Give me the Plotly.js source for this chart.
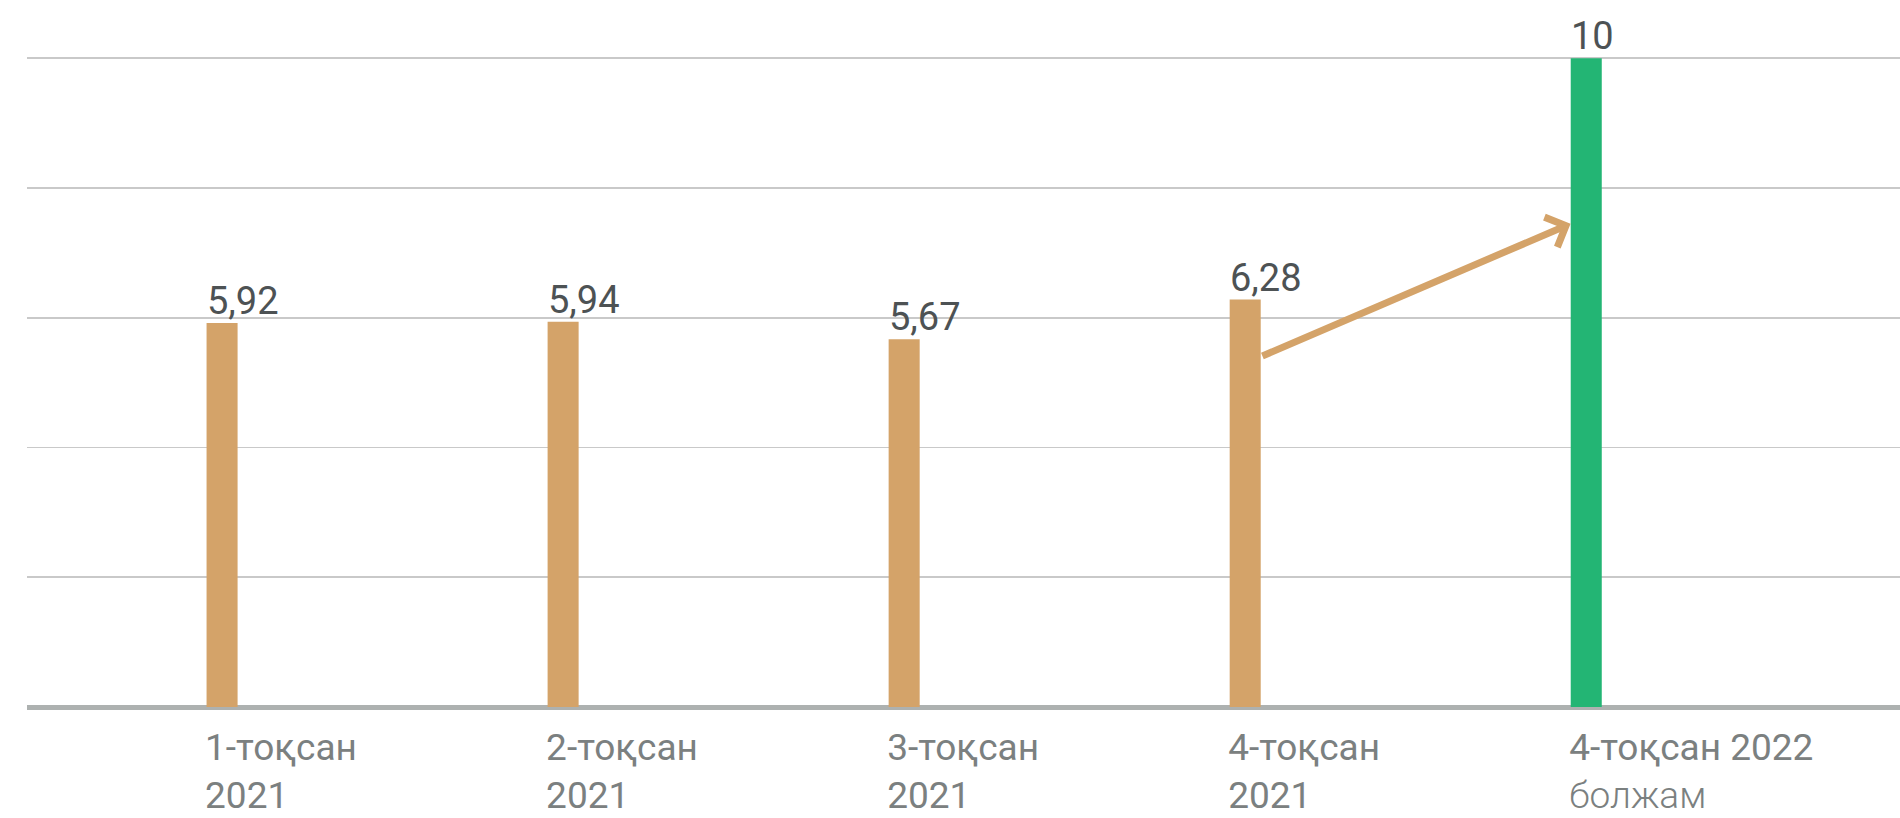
<!DOCTYPE html>
<html>
<head>
<meta charset="utf-8">
<script src="https://cdn.plot.ly/plotly-3.0.1.min.js"></script>
<style>
html, body { margin: 0; padding: 0; background: #ffffff; }
#chart { width: 1900px; height: 818px; }
</style>
</head>
<body>
<div id="chart"></div>
<script>
// Data
const categories = ["1-тоқсан 2021", "2-тоқсан 2021", "3-тоқсан 2021", "4-тоқсан 2021", "4-тоқсан 2022 болжам"];
const tickLine1 = ["1-тоқсан", "2-тоқсан", "3-тоқсан", "4-тоқсан", "4-тоқсан 2022"];
const tickLine2 = ["2021", "2021", "2021", "2021", "болжам"];
const values = [5.92, 5.94, 5.67, 6.28, 10];
const isForecast = [false, false, false, false, true];

// Styles
const TAN = "#D4A369";
const GREEN = "#23B574";
const FONT = "Roboto, 'Open Sans', sans-serif";
const BAR_HALF_PX = 16;

const fmt = v => Number.isInteger(v) ? String(v) : v.toFixed(2).replace(".", ",");

const ticktext = tickLine1.map((t, i) =>
  isForecast[i]
    ? t + "<br><span style=\"font-weight:300\">" + tickLine2[i] + "</span>"
    : t + "<br>" + tickLine2[i]
);

const trace = {
  type: "bar",
  x: categories,
  y: values,
  width: 0.091,
  marker: { color: isForecast.map(f => f ? GREEN : TAN), line: { width: 0 } },
  hoverinfo: "skip"
};

const annotations = values.map((v, i) => ({
  x: categories[i],
  y: v,
  xref: "x",
  yref: "y",
  text: fmt(v),
  showarrow: false,
  xanchor: "left",
  yanchor: "bottom",
  xshift: -BAR_HALF_PX - 1,
  yshift: -2,
  font: { family: FONT, size: 38, color: "#4d5254" }
}));

// growth arrow from the last actual bar to the forecast bar
annotations.push({
  x: 4 - 0.046,
  y: 7.45,
  ax: 3 + 0.046,
  ay: 5.4,
  xref: "x",
  yref: "y",
  axref: "x",
  ayref: "y",
  text: "",
  showarrow: true,
  arrowhead: 4,
  arrowsize: 0.9,
  arrowwidth: 7,
  arrowcolor: TAN,
  standoff: 0,
  startstandoff: 0
});

const layout = {
  width: 1900,
  height: 818,
  margin: { l: 27, r: 0, t: 55, b: 109, pad: 0 },
  paper_bgcolor: "#ffffff",
  plot_bgcolor: "#ffffff",
  showlegend: false,
  font: { family: FONT },
  xaxis: {
    type: "category",
    range: [-0.572, 4.92],
    tickmode: "array",
    tickvals: categories,
    ticktext: ticktext,
    ticks: "",
    showgrid: false,
    showline: false,
    zeroline: false,
    ticklabelposition: "outside right",
    ticklabelshift: -BAR_HALF_PX - 1,
    ticklabelstandoff: 13,
    ticklabeloverflow: "allow",
    tickfont: { family: FONT, size: 37, color: "#7b8080" },
    fixedrange: true
  },
  yaxis: {
    range: [-0.03, 10.05],
    dtick: 2,
    tick0: 0,
    showticklabels: false,
    ticks: "",
    showgrid: true,
    gridcolor: "#c9c9c9",
    gridwidth: 1.6,
    zeroline: true,
    zerolinecolor: "#adb1b0",
    zerolinewidth: 5,
    showline: false,
    fixedrange: true
  },
  annotations: annotations
};

Plotly.newPlot("chart", [trace], layout, { displayModeBar: false, staticPlot: true });
</script>
</body>
</html>
